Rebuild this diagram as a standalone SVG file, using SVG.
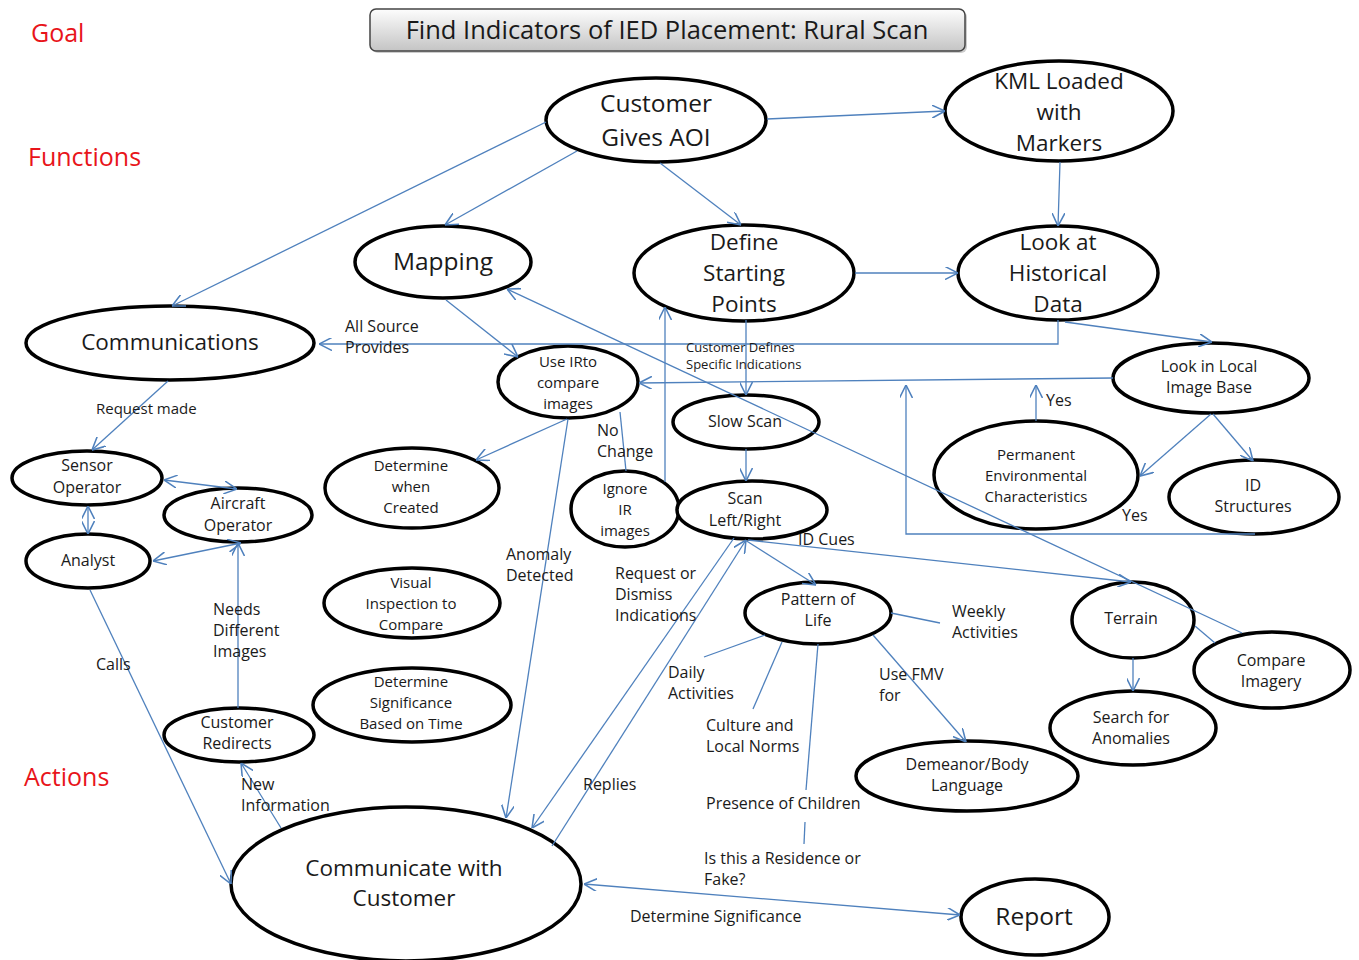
<svg xmlns="http://www.w3.org/2000/svg" width="1359" height="960" viewBox="0 0 1359 960">
<style>
.n{fill:#fff;stroke:#000;stroke-width:3.5}
.t{font-family:"Open Sans",Lato,sans-serif;fill:#1a1a1a;text-anchor:middle}
.b{font-size:24.5px}
.b3{font-size:22.5px}
.s{font-size:16px}
.s3{font-size:15px}
.l{font-family:"Open Sans",Lato,sans-serif;fill:#1a1a1a;font-size:16px}
.r{font-family:"Open Sans",Lato,sans-serif;fill:#e8141a;font-size:25px}
.c{fill:none;stroke:#4f81bd;stroke-width:1.3}
.a{marker-end:url(#ah)}
.d{marker-start:url(#ah);marker-end:url(#ah)}
</style>
<defs>
<marker id="ah" viewBox="0 0 10 10" refX="10" refY="5" markerWidth="13" markerHeight="13" markerUnits="userSpaceOnUse" orient="auto-start-reverse">
<path d="M0,0 L10,5 L0,10" fill="none" stroke="#4f81bd" stroke-width="1.2"/>
</marker>
<linearGradient id="tg" x1="0" y1="0" x2="0" y2="1">
<stop offset="0" stop-color="#fdfdfd"/>
<stop offset="1" stop-color="#c4c4c4"/>
</linearGradient>
</defs>
<rect width="1359" height="960" fill="#fff"/>

<text class="r" x="31" y="42">Goal</text>
<text class="r" x="28" y="166">Functions</text>
<text class="r" x="24" y="786">Actions</text>

<g id="title">
<rect x="372" y="11" width="595" height="42" rx="6" fill="#999" opacity="0.5"/>
<rect x="370" y="9" width="595" height="42" rx="6" fill="url(#tg)" stroke="#444" stroke-width="1.5"/>
<text class="t" x="667" y="39" style="font-size:25.5px">Find Indicators of IED Placement: Rural Scan</text>
</g>

<g id="n-cga"><ellipse class="n" cx="656" cy="120" rx="110" ry="42"/><text class="t b" x="656" y="112">Customer</text><text class="t b" x="656" y="146">Gives AOI</text></g>
<g id="n-kml"><ellipse class="n" cx="1059" cy="111" rx="114" ry="50"/><text class="t b3" x="1059" y="89">KML Loaded</text><text class="t b3" x="1059" y="120">with</text><text class="t b3" x="1059" y="151">Markers</text></g>
<g id="n-mapping"><ellipse class="n" cx="443" cy="262" rx="88" ry="36"/><text class="t b" x="443" y="270">Mapping</text></g>
<g id="n-define"><ellipse class="n" cx="744" cy="273" rx="110" ry="48"/><text class="t b3" x="744" y="250">Define</text><text class="t b3" x="744" y="281">Starting</text><text class="t b3" x="744" y="312">Points</text></g>
<g id="n-hist"><ellipse class="n" cx="1058" cy="273" rx="100" ry="47"/><text class="t b3" x="1058" y="250">Look at</text><text class="t b3" x="1058" y="281">Historical</text><text class="t b3" x="1058" y="312">Data</text></g>
<g id="n-comms"><ellipse class="n" cx="170" cy="343" rx="144" ry="37"/><text class="t" style="font-size:22.5px" x="170" y="350">Communications</text></g>
<g id="n-useir"><ellipse class="n" cx="568" cy="382" rx="70" ry="36"/><text class="t s3" x="568" y="367">Use IRto</text><text class="t s3" x="568" y="388">compare</text><text class="t s3" x="568" y="409">images</text></g>
<g id="n-slow"><ellipse class="n" cx="746" cy="422" rx="73" ry="27"/><text class="t s" x="745" y="427">Slow Scan</text></g>
<g id="n-local"><ellipse class="n" cx="1211" cy="378" rx="98" ry="35"/><text class="t s" x="1209" y="372">Look  in Local</text><text class="t s" x="1209" y="393">Image Base</text></g>
<g id="n-perm"><ellipse class="n" cx="1036" cy="475" rx="102" ry="54"/><text class="t s3" x="1036" y="460">Permanent</text><text class="t s3" x="1036" y="481">Environmental</text><text class="t s3" x="1036" y="502">Characteristics</text></g>
<g id="n-idstruct"><ellipse class="n" cx="1254" cy="497" rx="85" ry="37"/><text class="t s" x="1253" y="491">ID</text><text class="t s" x="1253" y="512">Structures</text></g>
<g id="n-sensor"><ellipse class="n" cx="87" cy="478" rx="75" ry="27"/><text class="t s" x="87" y="471">Sensor</text><text class="t s" x="87" y="493">Operator</text></g>
<g id="n-aircraft"><ellipse class="n" cx="238" cy="515" rx="74" ry="27"/><text class="t s" x="238" y="509">Aircraft</text><text class="t s" x="238" y="531">Operator</text></g>
<g id="n-analyst"><ellipse class="n" cx="88" cy="561" rx="62" ry="27"/><text class="t s" x="88" y="566">Analyst</text></g>
<g id="n-created"><ellipse class="n" cx="412" cy="488" rx="87" ry="40"/><text class="t s3" x="411" y="471">Determine</text><text class="t s3" x="411" y="492">when</text><text class="t s3" x="411" y="513">Created</text></g>
<g id="n-ignore"><ellipse class="n" cx="625" cy="509" rx="54" ry="38"/><text class="t s3" x="625" y="494">Ignore</text><text class="t s3" x="625" y="515">IR</text><text class="t s3" x="625" y="536">images</text></g>
<g id="n-scanlr"><ellipse class="n" cx="752" cy="510" rx="75" ry="29"/><text class="t s" x="745" y="504">Scan</text><text class="t s" x="745" y="526">Left/Right</text></g>
<g id="n-visual"><ellipse class="n" cx="412" cy="603" rx="88" ry="35"/><text class="t s3" x="411" y="588">Visual</text><text class="t s3" x="411" y="609">Inspection to</text><text class="t s3" x="411" y="630">Compare</text></g>
<g id="n-signif"><ellipse class="n" cx="412" cy="705" rx="99" ry="37"/><text class="t s3" x="411" y="687">Determine</text><text class="t s3" x="411" y="708">Significance</text><text class="t s3" x="411" y="729">Based on Time</text></g>
<g id="n-pol"><ellipse class="n" cx="818" cy="613" rx="73" ry="31"/><text class="t s" x="818" y="605">Pattern of</text><text class="t s" x="818" y="626">Life</text></g>
<g id="n-terrain"><ellipse class="n" cx="1133" cy="620" rx="61" ry="38"/><text class="t s" x="1131" y="624">Terrain</text></g>
<g id="n-compare"><ellipse class="n" cx="1272" cy="670" rx="78" ry="38"/><text class="t s" x="1271" y="666">Compare</text><text class="t s" x="1271" y="687">Imagery</text></g>
<g id="n-search"><ellipse class="n" cx="1133" cy="728" rx="83" ry="37"/><text class="t s" x="1131" y="723">Search for</text><text class="t s" x="1131" y="744">Anomalies</text></g>
<g id="n-redirect"><ellipse class="n" cx="239" cy="735" rx="75" ry="27"/><text class="t s" x="237" y="728">Customer</text><text class="t s" x="237" y="749">Redirects</text></g>
<g id="n-demeanor"><ellipse class="n" cx="967" cy="776" rx="111" ry="35"/><text class="t s" x="967" y="770">Demeanor/Body</text><text class="t s" x="967" y="791">Language</text></g>
<g id="n-cwc"><ellipse class="n" cx="406" cy="884" rx="175" ry="77"/><text class="t" style="font-size:22.5px" x="404" y="876">Communicate with</text><text class="t" style="font-size:22.5px" x="404" y="906">Customer</text></g>
<g id="n-report"><ellipse class="n" cx="1035" cy="917" rx="74" ry="38"/><text class="t b" x="1034" y="925">Report</text></g>

<g id="connectors">
<line class="c a" x1="767" y1="119" x2="945" y2="111"/>
<line class="c a" x1="546" y1="122" x2="172" y2="306"/>
<line class="c a" x1="577" y1="151" x2="445" y2="225"/>
<line class="c a" x1="660" y1="163" x2="741" y2="225"/>
<line class="c a" x1="1060" y1="162" x2="1058" y2="226"/>
<line class="c a" x1="855" y1="273" x2="958" y2="273"/>
<polyline class="c a" points="1058,320 1058,344 319,344"/>
<line class="c a" x1="1065" y1="322" x2="1212" y2="342"/>
<line class="c a" x1="446" y1="300" x2="518" y2="357"/>
<line class="c a" x1="746" y1="320" x2="746" y2="395"/>
<line class="c a" x1="1113" y1="378" x2="639" y2="383"/>
<line class="c a" x1="1242" y1="633" x2="507" y2="289"/>
<line class="c a" x1="1036" y1="421" x2="1036" y2="385"/>
<line class="c a" x1="1211" y1="414" x2="1140" y2="476"/>
<line class="c a" x1="1213" y1="414" x2="1253" y2="461"/>
<polyline class="c a" points="1255,534 906,534 906,385"/>
<line class="c a" x1="567" y1="419" x2="476" y2="460"/>
<line class="c" x1="620" y1="412" x2="626" y2="471"/>
<line class="c a" x1="568" y1="419" x2="506" y2="818"/>
<line class="c a" x1="665" y1="482" x2="665" y2="307"/>
<line class="c a" x1="746" y1="449" x2="746" y2="481"/>
<line class="c a" x1="745" y1="540" x2="816" y2="585"/>
<line class="c a" x1="748" y1="540" x2="1131" y2="582"/>
<line class="c a" x1="734" y1="538" x2="532" y2="828"/>
<line class="c a" x1="552" y1="846" x2="746" y2="540"/>
<line class="c" x1="891" y1="613" x2="940" y2="623"/>
<line class="c" x1="765" y1="635" x2="704" y2="657"/>
<line class="c" x1="782" y1="642" x2="753" y2="709"/>
<line class="c" x1="818" y1="644" x2="806" y2="790"/>
<line class="c" x1="805" y1="822" x2="804" y2="844"/>
<line class="c a" x1="873" y1="635" x2="966" y2="742"/>
<line class="c a" x1="1133" y1="658" x2="1133" y2="691"/>
<line class="c" x1="1195" y1="626" x2="1215" y2="643"/>
<line class="c a" x1="168" y1="381" x2="92" y2="450"/>
<line class="c d" x1="164" y1="480" x2="237" y2="489"/>
<line class="c d" x1="88" y1="506" x2="88" y2="534"/>
<line class="c d" x1="153" y1="561" x2="241" y2="543"/>
<line class="c a" x1="238" y1="708" x2="238" y2="543"/>
<line class="c a" x1="90" y1="590" x2="231" y2="884"/>
<line class="c a" x1="281" y1="828" x2="241" y2="763"/>
<line class="c d" x1="584" y1="884" x2="960" y2="915"/>
</g>

<g id="labels">
<text class="l" x="345" y="332">All Source</text>
<text class="l" x="345" y="353">Provides</text>
<text class="l" x="686" y="352" style="font-size:13px">Customer Defines</text>
<text class="l" x="686" y="369" style="font-size:13px">Specific Indications</text>
<text class="l" x="96" y="414" style="font-size:15px">Request made</text>
<text class="l" x="597" y="436">No</text>
<text class="l" x="597" y="457">Change</text>
<text class="l" x="1046" y="406">Yes</text>
<text class="l" x="1122" y="521">Yes</text>
<text class="l" x="798" y="545">ID Cues</text>
<text class="l" x="506" y="560">Anomaly</text>
<text class="l" x="506" y="581">Detected</text>
<text class="l" x="615" y="579">Request or</text>
<text class="l" x="615" y="600">Dismiss</text>
<text class="l" x="615" y="621">Indications</text>
<text class="l" x="952" y="617">Weekly</text>
<text class="l" x="952" y="638">Activities</text>
<text class="l" x="213" y="615">Needs</text>
<text class="l" x="213" y="636">Different</text>
<text class="l" x="213" y="657">Images</text>
<text class="l" x="96" y="670">Calls</text>
<text class="l" x="668" y="678">Daily</text>
<text class="l" x="668" y="699">Activities</text>
<text class="l" x="879" y="680">Use FMV</text>
<text class="l" x="879" y="701">for</text>
<text class="l" x="706" y="731">Culture and</text>
<text class="l" x="706" y="752">Local Norms</text>
<text class="l" x="241" y="790">New</text>
<text class="l" x="241" y="811">Information</text>
<text class="l" x="583" y="790">Replies</text>
<text class="l" x="706" y="809">Presence of Children</text>
<text class="l" x="704" y="864">Is this a Residence or</text>
<text class="l" x="704" y="885">Fake?</text>
<text class="l" x="630" y="922">Determine  Significance</text>
</g>
</svg>
